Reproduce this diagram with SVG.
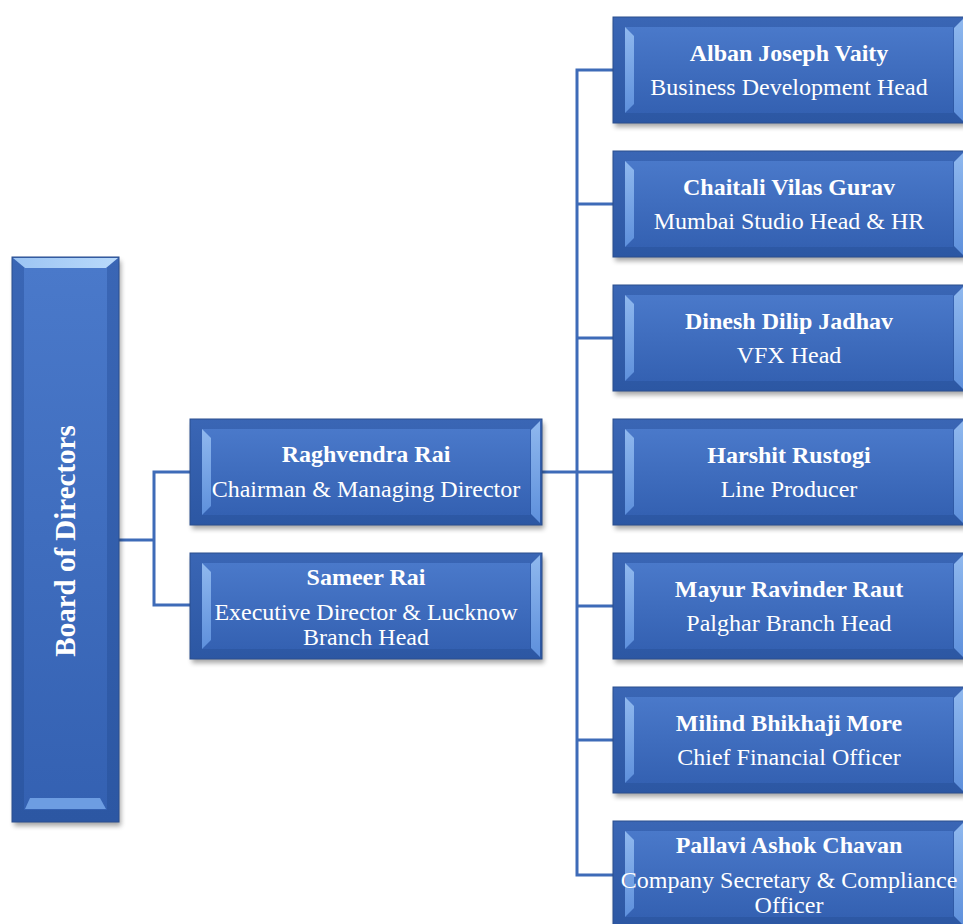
<svg xmlns="http://www.w3.org/2000/svg" xmlns:xlink="http://www.w3.org/1999/xlink" width="963" height="924" viewBox="0 0 963 924">
<style>
.name{font-family:"Liberation Serif","Times New Roman",serif;font-weight:bold;font-size:24px;fill:#fff;text-anchor:middle}
.role{font-family:"Liberation Serif","Times New Roman",serif;font-size:24px;fill:#fff;text-anchor:middle}
.board{font-family:"Liberation Serif","Times New Roman",serif;font-weight:bold;font-size:29px;fill:#fff;text-anchor:middle}
.conn{fill:none;stroke:#3e6bb8;stroke-width:3}
</style>
<defs>
<linearGradient id="face" x1="0" y1="0" x2="0" y2="1">
<stop offset="0" stop-color="#4a79ca"/>
<stop offset="1" stop-color="#3461b2"/>
</linearGradient>
<linearGradient id="frame" x1="0" y1="0" x2="0" y2="1">
<stop offset="0" stop-color="#3a66b5"/>
<stop offset="1" stop-color="#2c57a3"/>
</linearGradient>
<linearGradient id="lightV" x1="0" y1="0" x2="0" y2="1">
<stop offset="0" stop-color="#8fb8ee"/>
<stop offset="1" stop-color="#5e90dc"/>
</linearGradient>
<linearGradient id="lightH" x1="0" y1="0" x2="1" y2="0">
<stop offset="0" stop-color="#9cc4f3"/>
<stop offset="1" stop-color="#b9dafb"/>
</linearGradient>
<filter id="sh" x="-10%" y="-10%" width="120%" height="130%">
<feGaussianBlur stdDeviation="2.5"/>
</filter>
<g id="box">
<rect x="2" y="4" width="352" height="106" fill="#000" opacity="0.35" filter="url(#sh)"/>
<rect x="0" y="0" width="352" height="106" fill="url(#frame)" stroke="#2a4e8e" stroke-width="1"/>
<rect x="12" y="10" width="328" height="86" fill="url(#face)"/>
<polygon points="12,10 21,19 21,87 12,96" fill="url(#lightV)"/>
<polygon points="350,2 341,11 341,95 350,104" fill="url(#lightV)"/>
</g>
</defs>

<g id="connectors">
<polyline class="conn" points="119,540 154,540"/>
<polyline class="conn" points="190,472 154,472 154,605 190,605"/>
<polyline class="conn" points="542,472 577,472"/>
<polyline class="conn" points="613,70 577,70 577,875 613,875"/>
<line class="conn" x1="577" y1="204" x2="613" y2="204"/>
<line class="conn" x1="577" y1="338" x2="613" y2="338"/>
<line class="conn" x1="577" y1="472" x2="613" y2="472"/>
<line class="conn" x1="577" y1="606" x2="613" y2="606"/>
<line class="conn" x1="577" y1="740" x2="613" y2="740"/>
</g>

<g id="board-of-directors">
<rect x="14" y="261" width="107" height="565" fill="#000" opacity="0.35" filter="url(#sh)"/>
<rect x="12" y="257" width="107" height="565" fill="url(#frame)" stroke="#2a4e8e" stroke-width="1"/>
<rect x="24" y="268" width="83" height="542" fill="url(#face)"/>
<polygon points="13,258 118,258 106,268 25,268" fill="url(#lightH)"/>
<polygon points="30,798 100,798 106,809 25,809" fill="#6d9de2"/>
<text class="board" transform="translate(75,541) rotate(-90)">Board of Directors</text>
</g>

<g id="raghvendra-rai" transform="translate(190,419)">
<use xlink:href="#box"/>
<text class="name" x="176" y="43">Raghvendra Rai</text>
<text class="role" x="176" y="78">Chairman &amp; Managing Director</text>
</g>

<g id="sameer-rai" transform="translate(190,553)">
<use xlink:href="#box"/>
<text class="name" x="176" y="32">Sameer Rai</text>
<text class="role" x="176" y="67">Executive Director &amp; Lucknow</text>
<text class="role" x="176" y="92">Branch Head</text>
</g>

<g id="alban-joseph-vaity" transform="translate(613,17)">
<use xlink:href="#box"/>
<text class="name" x="176" y="44">Alban Joseph Vaity</text>
<text class="role" x="176" y="78">Business Development Head</text>
</g>

<g id="chaitali-vilas-gurav" transform="translate(613,151)">
<use xlink:href="#box"/>
<text class="name" x="176" y="44">Chaitali Vilas Gurav</text>
<text class="role" x="176" y="78">Mumbai Studio Head &amp; HR</text>
</g>

<g id="dinesh-dilip-jadhav" transform="translate(613,285)">
<use xlink:href="#box"/>
<text class="name" x="176" y="44">Dinesh Dilip Jadhav</text>
<text class="role" x="176" y="78">VFX Head</text>
</g>

<g id="harshit-rustogi" transform="translate(613,419)">
<use xlink:href="#box"/>
<text class="name" x="176" y="44">Harshit Rustogi</text>
<text class="role" x="176" y="78">Line Producer</text>
</g>

<g id="mayur-ravinder-raut" transform="translate(613,553)">
<use xlink:href="#box"/>
<text class="name" x="176" y="44">Mayur Ravinder Raut</text>
<text class="role" x="176" y="78">Palghar Branch Head</text>
</g>

<g id="milind-bhikhaji-more" transform="translate(613,687)">
<use xlink:href="#box"/>
<text class="name" x="176" y="44">Milind Bhikhaji More</text>
<text class="role" x="176" y="78">Chief Financial Officer</text>
</g>

<g id="pallavi-ashok-chavan" transform="translate(613,821)">
<use xlink:href="#box"/>
<text class="name" x="176" y="32">Pallavi Ashok Chavan</text>
<text class="role" x="176" y="67">Company Secretary &amp; Compliance</text>
<text class="role" x="176" y="92">Officer</text>
</g>
</svg>
